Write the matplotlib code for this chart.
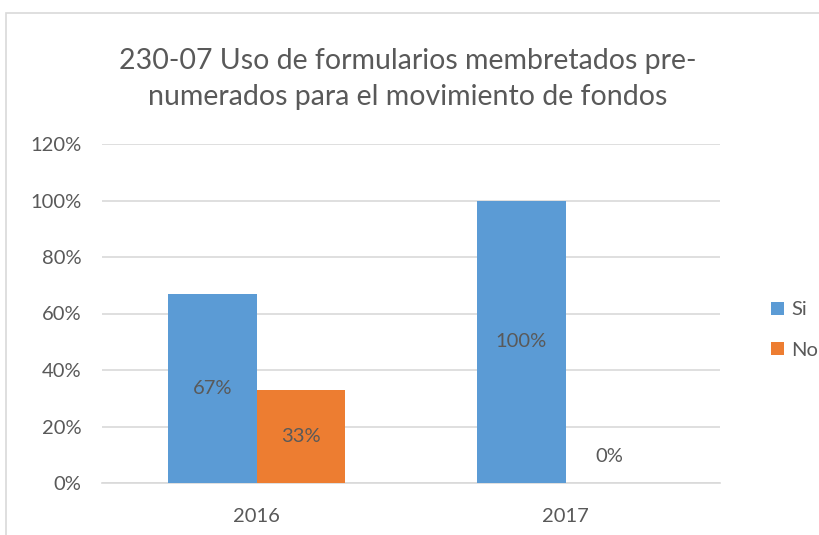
import matplotlib
matplotlib.use("Agg")
import matplotlib.pyplot as plt
from matplotlib.patches import Rectangle
import numpy as np

plt.rcParams['font.family'] = ['Lato', 'DejaVu Sans']

categories = ["2016", "2017"]
series_names = ["Si", "No"]
si_values = [67, 100]
no_values = [33, 0]
colors = ["#5B9BD5", "#ED7D31"]
title = "230-07 Uso de formularios membretados pre-\nnumerados para el movimiento de fondos"
yticks = [0, 20, 40, 60, 80, 100, 120]

W, H = 819, 535
fig = plt.figure(figsize=(W/100, H/100), dpi=100)
fig.patch.set_facecolor("white")

# chart frame (extends past right/bottom edges)
frame = Rectangle((6/W, -0.1), 1.0, 1 - 13/H + 0.1, transform=fig.transFigure,
                  fill=False, edgecolor="#D9D9D9", linewidth=1.2)
fig.add_artist(frame)

ax = fig.add_axes([102/W, 1 - 483/H, (720-102)/W, (483-144)/H])
x = np.arange(len(categories))
width = 0.285
text_color = "#595959"
fs = 14.5

for i, (vals, name, c) in enumerate(zip([si_values, no_values], series_names, colors)):
    offs = (i - 0.5) * width
    ax.bar(x + offs, vals, width, color=c, label=name, zorder=3)
    for xi, v in zip(x + offs, vals):
        if v > 0:
            ax.text(xi, v / 2, f"{v}%", ha="center", va="center", fontsize=fs, color=text_color, zorder=4)
        else:
            ax.annotate(f"{v}%", (xi, v), xytext=(0, 19), textcoords="offset points",
                        ha="center", va="center", fontsize=fs, color=text_color, zorder=4)

ax.set_xlim(-0.5, 1.5)
ax.set_ylim(0, 120)
ax.set_yticks(yticks)
ax.set_yticklabels([f"{t}%" for t in yticks])
ax.set_xticks(x)
ax.set_xticklabels(categories)
ax.tick_params(axis="both", length=0, labelsize=fs, labelcolor=text_color)
ax.tick_params(axis="y", pad=15)
ax.tick_params(axis="x", pad=18)
ax.grid(axis="y", color="#D9D9D9", linewidth=1.2, zorder=0)
for s in ["top", "right", "left"]:
    ax.spines[s].set_visible(False)
ax.spines["bottom"].set_color("#D9D9D9")
ax.spines["bottom"].set_linewidth(1.2)

fig.text(408/W, 1 - 79/H, title, ha="center", va="center", fontsize=20.5, color=text_color,
         linespacing=1.5)

fig.legend(loc="center left", bbox_to_anchor=(753/W, 1 - 330/H), frameon=False,
           fontsize=fs, handlelength=0.65, handleheight=0.65, handletextpad=0.35,
           labelspacing=1.15, labelcolor=text_color)

fig.savefig("out.png", dpi=100, facecolor="white")
